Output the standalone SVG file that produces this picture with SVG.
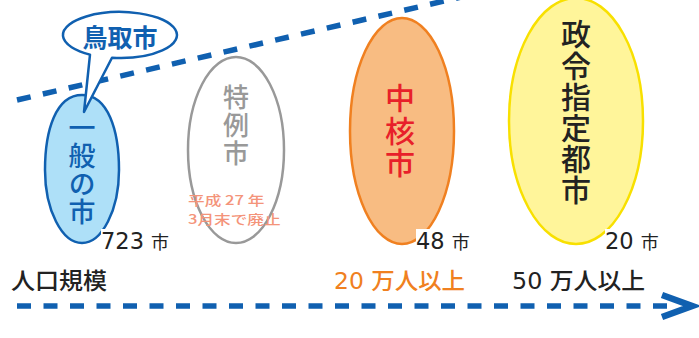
<svg xmlns="http://www.w3.org/2000/svg" width="699" height="338" viewBox="0 0 699 338">
<style>
text{font-family:"Noto Sans CJK JP","Noto Sans",sans-serif;}
.v{writing-mode:vertical-rl;font-weight:500;}
.dash{stroke:#1060b0;stroke-width:5.5;stroke-dasharray:14 12.5;fill:none;}
.num{font-family:"DejaVu Sans","Noto Sans CJK JP",sans-serif;font-size:22.5px;fill:#222;}
.num tspan{font-family:"Noto Sans CJK JP",sans-serif;font-size:18px;}
.lbl{font-family:"DejaVu Sans","Noto Sans CJK JP",sans-serif;font-size:23px;}
.lbl tspan{font-family:"Noto Sans CJK JP",sans-serif;font-weight:500;}
</style>
<rect width="699" height="338" fill="#fff"/>
<g id="connectors">
<line class="dash" x1="17" y1="100" x2="470" y2="-5"/>
<line class="dash" x1="17" y1="306" x2="668" y2="306"/>
<polyline points="662,295 692,306 662,317" fill="none" stroke="#1060b0" stroke-width="6.5"/>
</g>
<g id="ippan">
<path d="M82 95 C108 95 119 130 119 170 C119 210 102 243 82 243 C62 243 45 210 45 170 C45 130 56 95 82 95 Z" fill="#aee0f8" stroke="#1060b0" stroke-width="2.5"/>
<text class="v" x="82" y="114.5" font-size="27" letter-spacing="1" fill="#1060b0">一般の市</text>
</g>
<g id="tottori">
<path d="M112 57.8 A57 23 0 1 0 90 54.6 L84 112 Z" fill="#fff" stroke="#1060b0" stroke-width="2.5" stroke-linejoin="round"/>
<text x="120" y="47" text-anchor="middle" font-size="25" font-weight="bold" fill="#1060b0">鳥取市</text>
</g>
<g id="tokurei">
<ellipse cx="236" cy="150" rx="48" ry="93" fill="#fff" stroke="#999" stroke-width="2.5"/>
<text class="v" x="236" y="84" font-size="26" letter-spacing="2" fill="#999">特例市</text>
<text font-size="13" font-weight="500" fill="#f4947a" transform="translate(188,0) scale(1.28,1)"><tspan x="0" y="205.5">平成 27 年</tspan><tspan x="0" y="224.5">3月末で廃止</tspan></text>
</g>
<g id="chukaku">
<ellipse cx="402" cy="131" rx="52" ry="113" fill="#f8bc82" stroke="#f08020" stroke-width="2.5"/>
<text class="v" x="400" y="83" font-size="30" letter-spacing="2.5" fill="#e8202a">中核市</text>
</g>
<g id="seirei">
<ellipse cx="576" cy="121" rx="67" ry="123" fill="#fff59a" stroke="#f8e000" stroke-width="2.5"/>
<text class="v" x="576" y="19" font-size="30" letter-spacing="1.2" fill="#222">政令指定都市</text>
</g>
<g id="counts">
<rect x="101" y="229" width="75" height="24" fill="#fff"/>
<rect x="416" y="229" width="60" height="24" fill="#fff"/>
<rect x="605" y="229" width="60" height="24" fill="#fff"/>
<text class="num" x="101" y="249">723 <tspan>市</tspan></text>
<text class="num" x="416" y="249">48 <tspan>市</tspan></text>
<text class="num" x="605" y="249">20 <tspan>市</tspan></text>
</g>
<g id="scale">
<text class="lbl" x="11" y="289" fill="#222" font-weight="500" textLength="96" lengthAdjust="spacingAndGlyphs">人口規模</text>
<text class="lbl" x="334" y="289" fill="#f08020" textLength="131" lengthAdjust="spacingAndGlyphs">20 <tspan>万人以上</tspan></text>
<text class="lbl" x="512" y="289" fill="#222" textLength="133" lengthAdjust="spacingAndGlyphs">50 <tspan>万人以上</tspan></text>
</g>
</svg>
